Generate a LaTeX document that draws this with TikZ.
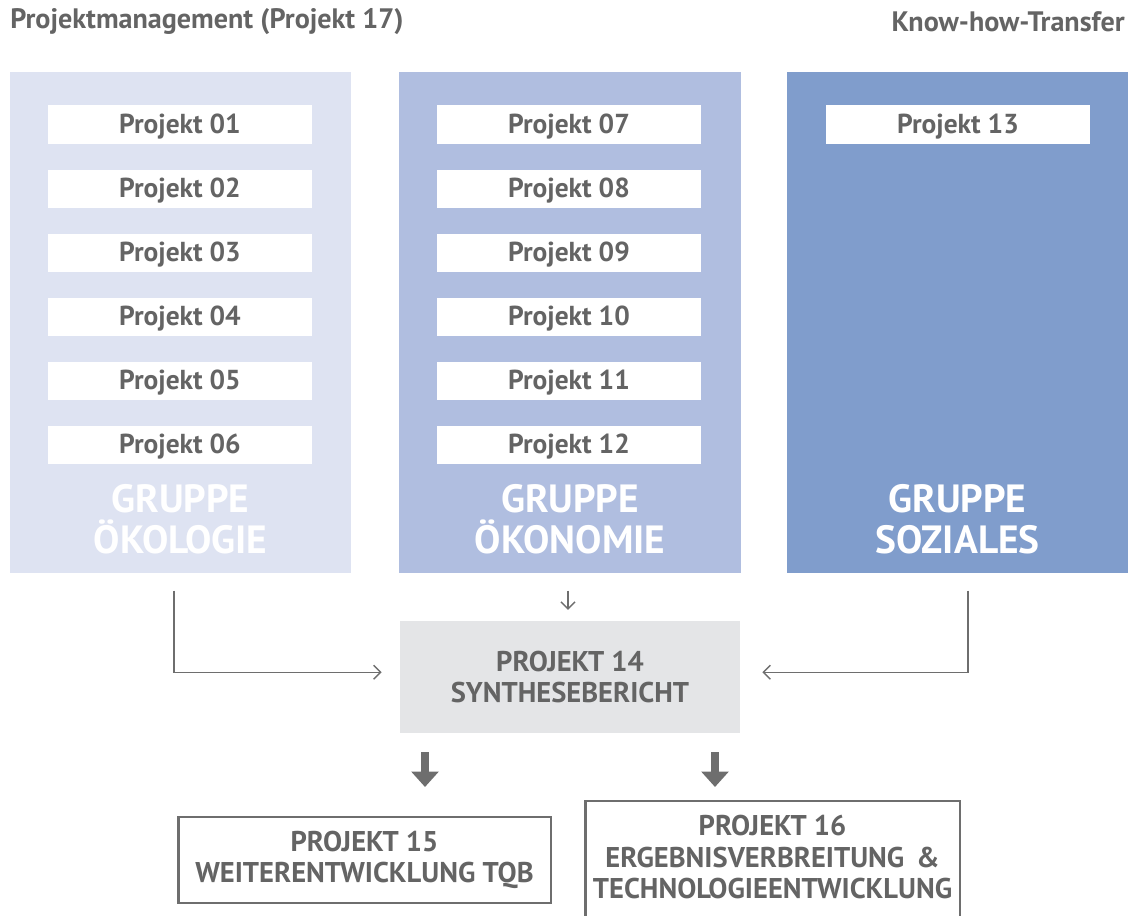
\documentclass[tikz,border=0pt]{standalone}
\usepackage{fontspec}
\setmainfont{PT Sans}
\usetikzlibrary{arrows.meta,positioning}
\definecolor{grpoek}{RGB}{222,227,242}
\definecolor{grpoekon}{RGB}{176,190,224}
\definecolor{grpsoz}{RGB}{128,157,204}
\definecolor{synfill}{RGB}{228,229,231}
\definecolor{txtgray}{RGB}{100,100,100}
\definecolor{arrgray}{RGB}{110,110,110}
\begin{document}
\begin{tikzpicture}[x=0.025cm, y=-0.025cm,
    group/.style={rectangle, minimum width=8.525cm, minimum height=12.525cm, inner sep=0pt},
    grouplabel/.style={font=\fontsize{28}{29}\selectfont\bfseries, text=white, align=center},
    projbox/.style={rectangle, fill=white, minimum width=6.6cm, minimum height=0.95cm,
      inner sep=0pt, text height=18pt, text depth=5pt,
      font=\fontsize{19.5}{22}\selectfont\bfseries, text=txtgray},
    resbox/.style={rectangle, align=center, inner sep=0pt,
      font=\fontsize{20.3}{22.2}\selectfont\bfseries, text=txtgray},
    headline/.style={font=\fontsize{20}{22}\selectfont\bfseries, text=txtgray, inner sep=0pt},
    arr/.style={-{Straight Barb[length=5pt, width=10pt]}, line width=1pt, draw=arrgray},
    fatarr/.style={-{Triangle[length=11pt, width=19pt]}, line width=5pt, draw=arrgray}
  ]
    \useasboundingbox (0,0) rectangle (1130,915);
    % Headlines
    \node[headline, anchor=west] (hpm) at (10,22) {Projektmanagement (Projekt 17)};
    \node[headline, anchor=east] (hkt) at (1125,22) {Know-how-Transfer};
    % Groups
    \node[group, fill=grpoek] (oek) at (180.5,322.5) {};
    \node[group, fill=grpoekon] (oekon) at (570,322.5) {};
    \node[group, fill=grpsoz] (soz) at (957.5,322.5) {};
    \node[grouplabel] (loek) at (180.5,519) {GRUPPE\\ÖKOLOGIE};
    \node[grouplabel] (loekon) at (570,519) {GRUPPE\\ÖKONOMIE};
    \node[grouplabel] (lsoz) at (957.5,519) {GRUPPE\\SOZIALES};
    % Projects Oekologie
    \node[projbox] (p01) at (180,124.5) {Projekt 01};
    \node[projbox] (p02) at (180,188.5) {Projekt 02};
    \node[projbox] (p03) at (180,252.5) {Projekt 03};
    \node[projbox] (p04) at (180,316.5) {Projekt 04};
    \node[projbox] (p05) at (180,380.5) {Projekt 05};
    \node[projbox] (p06) at (180,444.5) {Projekt 06};
    % Projects Oekonomie
    \node[projbox] (p07) at (569,124.5) {Projekt 07};
    \node[projbox] (p08) at (569,188.5) {Projekt 08};
    \node[projbox] (p09) at (569,252.5) {Projekt 09};
    \node[projbox] (p10) at (569,316.5) {Projekt 10};
    \node[projbox] (p11) at (569,380.5) {Projekt 11};
    \node[projbox] (p12) at (569,444.5) {Projekt 12};
    % Projects Soziales
    \node[projbox] (p13) at (958,124.5) {Projekt 13};
    % Synthesis and results
    \node[resbox, fill=synfill, minimum width=8.5cm, minimum height=2.8cm] (p14) at (570,677)
      {PROJEKT 14\\SYNTHESEBERICHT};
    \node[resbox, draw=arrgray, line width=1.5pt, minimum width=9.3cm, minimum height=2.15cm] (p15)
      at (364.5,860) {PROJEKT 15\\WEITERENTWICKLUNG TQB};
    \node[resbox, draw=arrgray, line width=1.5pt, minimum width=9.35cm, minimum height=3.05cm,
      text depth=0.25cm] (p16) at (772.5,862) {PROJEKT 16\\ERGEBNISVERBREITUNG \,\&\\TECHNOLOGIEENTWICKLUNG};
    % Arrows
    \draw[arr] ([xshift=-0.16cm, yshift=-0.43cm]oek.south) |- ([xshift=-0.45cm, yshift=0.12cm]p14.west);
    \draw[arr] ([xshift=0.26cm, yshift=-0.43cm]soz.south) |- ([xshift=0.55cm, yshift=0.12cm]p14.east);
    \draw[arr] ([xshift=-0.05cm, yshift=-0.43cm]oekon.south) -- ([xshift=-0.05cm, yshift=0.27cm]p14.north);
    \coordinate (f15) at (425,752);
    \coordinate (f16) at (715,752);
    \draw[fatarr] (f15) -- ++(0,35);
    \draw[fatarr] (f16) -- ++(0,35);
\end{tikzpicture}
\end{document}
